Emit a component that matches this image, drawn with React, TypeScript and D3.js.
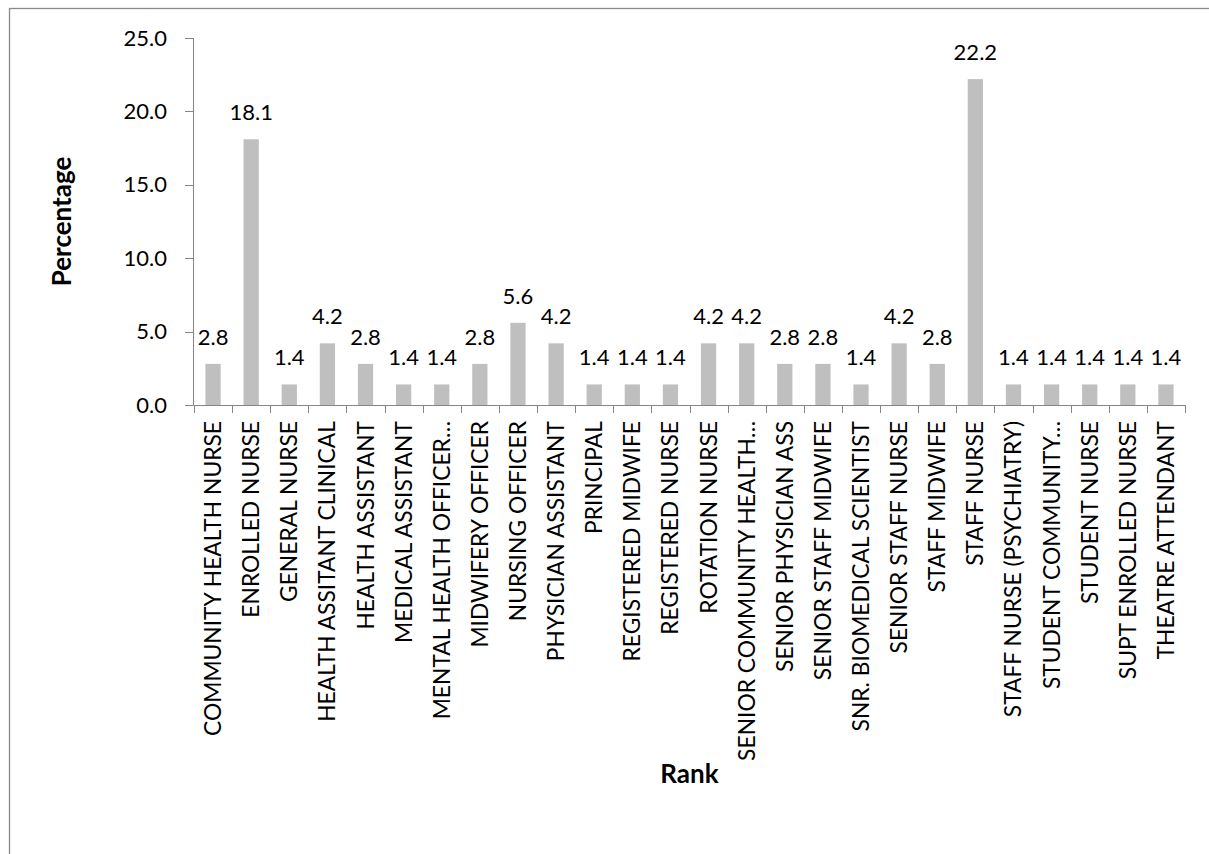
import React from "react";
import * as d3 from "d3";

const categories: string[] = [
  "COMMUNITY HEALTH NURSE",
  "ENROLLED NURSE",
  "GENERAL NURSE",
  "HEALTH ASSITANT CLINICAL",
  "HEALTH ASSISTANT",
  "MEDICAL ASSISTANT",
  "MENTAL HEALTH OFFICER…",
  "MIDWIFERY OFFICER",
  "NURSING OFFICER",
  "PHYSICIAN ASSISTANT",
  "PRINCIPAL",
  "REGISTERED MIDWIFE",
  "REGISTERED NURSE",
  "ROTATION NURSE",
  "SENIOR COMMUNITY HEALTH…",
  "SENIOR PHYSICIAN ASS",
  "SENIOR STAFF MIDWIFE",
  "SNR. BIOMEDICAL SCIENTIST",
  "SENIOR STAFF NURSE",
  "STAFF MIDWIFE",
  "STAFF NURSE",
  "STAFF NURSE (PSYCHIATRY)",
  "STUDENT COMMUNITY…",
  "STUDENT NURSE",
  "SUPT ENROLLED NURSE",
  "THEATRE ATTENDANT",
];

const values: number[] = [
  2.8, 18.1, 1.4, 4.2, 2.8, 1.4, 1.4, 2.8, 5.6, 4.2, 1.4, 1.4, 1.4, 4.2, 4.2,
  2.8, 2.8, 1.4, 4.2, 2.8, 22.2, 1.4, 1.4, 1.4, 1.4, 1.4,
];

const yTicks: number[] = [0, 5, 10, 15, 20, 25];

const yAxisTitle = "Percentage";
const xAxisTitle = "Rank";

const W = 1209;
const H = 854;
const LEFT = 194;
const RIGHT = 1185;
const TOP = 38;
const BOTTOM = 405;
const FONT = "Lato, 'Open Sans', sans-serif";
const AXIS_COLOR = "#868686";
const BAR_COLOR = "#BFBFBF";

export default function App() {
  const x = d3
    .scaleBand<string>()
    .domain(categories)
    .range([LEFT, RIGHT])
    .paddingInner(0.6)
    .paddingOuter(0.3);
  const xEdges = d3.scaleBand<string>().domain(categories).range([LEFT, RIGHT]).padding(0);
  const y = d3.scaleLinear().domain([0, 25]).range([BOTTOM, TOP]);

  const edgePositions = [...categories.map((c) => xEdges(c) as number), RIGHT];

  return (
    <svg
      width={W}
      height={H}
      viewBox={`0 0 ${W} ${H}`}
      style={{ position: "absolute", left: 0, top: 0, display: "block", background: "#fff" }}
    >
      <rect x={0} y={0} width={W} height={H} fill="#ffffff" />
      <rect x={9.5} y={8.5} width={W + 50} height={H + 50} fill="none" stroke="#898989" strokeWidth={1.3} />

      {/* bars */}
      {categories.map((c, i) => (
        <rect
          key={c}
          x={x(c)}
          y={y(values[i])}
          width={x.bandwidth()}
          height={y(0) - y(values[i])}
          fill={BAR_COLOR}
        />
      ))}

      {/* y axis */}
      <line x1={LEFT - 0.5} x2={LEFT - 0.5} y1={TOP} y2={BOTTOM} stroke={AXIS_COLOR} strokeWidth={1} />
      {yTicks.map((t) => (
        <g key={t}>
          <line x1={LEFT - 9} x2={LEFT - 0.5} y1={Math.round(y(t)) + 0.5} y2={Math.round(y(t)) + 0.5} stroke={AXIS_COLOR} />
          <text
            x={167}
            y={y(t) + 7.5}
            textAnchor="end"
            fontFamily={FONT}
            fontSize={22}
            fill="#000"
          >
            {t.toFixed(1)}
          </text>
        </g>
      ))}

      {/* x axis */}
      <line x1={LEFT - 0.5} x2={RIGHT} y1={BOTTOM + 0.5} y2={BOTTOM + 0.5} stroke={AXIS_COLOR} strokeWidth={1} />
      {edgePositions.map((p, i) => (
        <line key={i} x1={Math.round(p) + 0.5} x2={Math.round(p) + 0.5} y1={BOTTOM} y2={BOTTOM + 8} stroke={AXIS_COLOR} />
      ))}

      {/* category labels */}
      {categories.map((c) => {
        const cx = (x(c) as number) + x.bandwidth() / 2 + 8;
        return (
          <text
            key={c}
            transform={`translate(${cx},421) rotate(-90)`}
            textAnchor="end"
            fontFamily={FONT}
            fontSize={22.8}
            fill="#000"
          >
            {c}
          </text>
        );
      })}

      {/* data labels */}
      {categories.map((c, i) => (
        <text
          key={c}
          x={(x(c) as number) + x.bandwidth() / 2}
          y={y(values[i]) - 19}
          textAnchor="middle"
          fontFamily={FONT}
          fontSize={22}
          fill="#000"
        >
          {values[i].toFixed(1)}
        </text>
      ))}

      {/* axis titles */}
      <text
        transform={`translate(71,${(TOP + BOTTOM) / 2}) rotate(-90)`}
        textAnchor="middle"
        fontFamily={FONT}
        fontWeight="bold"
        fontSize={26}
        fill="#000"
      >
        {yAxisTitle}
      </text>
      <text
        x={(LEFT + RIGHT) / 2}
        y={783}
        textAnchor="middle"
        fontFamily={FONT}
        fontWeight="bold"
        fontSize={26}
        fill="#000"
      >
        {xAxisTitle}
      </text>
    </svg>
  );
}
